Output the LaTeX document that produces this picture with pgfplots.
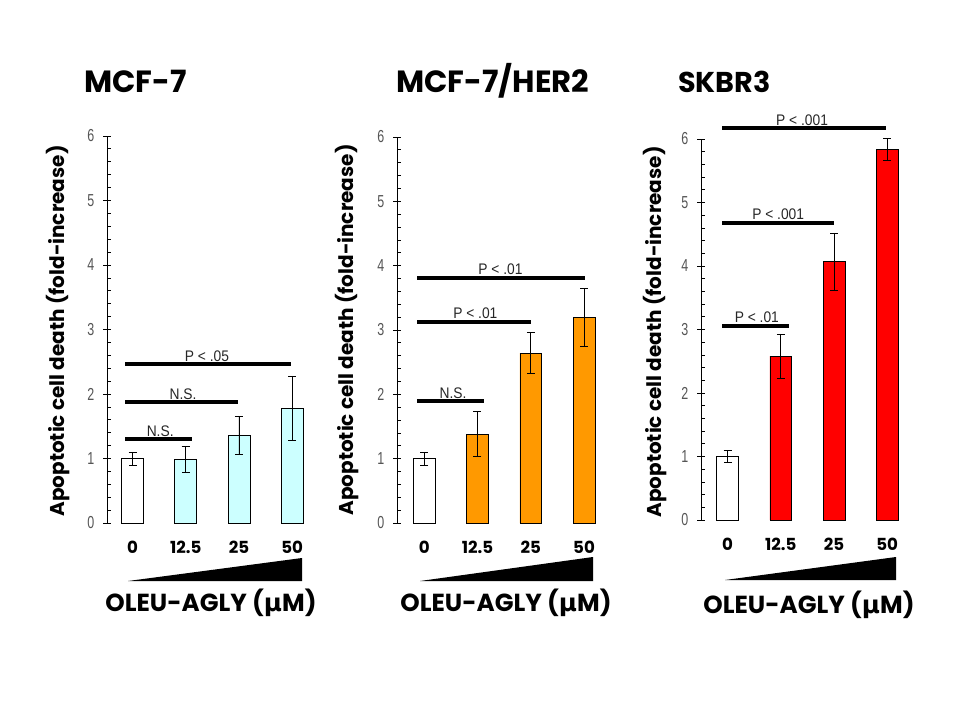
\documentclass[border=0pt]{standalone}
\usepackage{pgfplots}
\pgfplotsset{compat=1.18}
\usepackage{fontspec}
\setmainfont{Poppins}
\newfontfamily\tickfont[FakeStretch=0.72]{Liberation Sans}
\newfontfamily\sigfont[FakeStretch=0.9]{Liberation Sans}
\newfontfamily\dejavu{DejaVu Sans}
\definecolor{cyanbar}{HTML}{CCFFFF}
\definecolor{orangebar}{HTML}{FF9900}
\definecolor{redbar}{HTML}{FF0000}
\definecolor{tickgray}{HTML}{555555}
\tikzset{
  sig/.style={line width=3pt, black},
  siglab/.style={font=\sigfont\fontsize{11.5}{11.5}\selectfont, text=black!85, anchor=south, inner sep=1pt, yshift=1pt},
  ttl/.style={anchor=base west, font=\bfseries\fontsize{23}{23}\selectfont, inner sep=0pt},
}
\pgfplotsset{
  panel/.style={
    scale only axis,
    ymin=0, ymax=6, xmax=3.5,
    ytick={0,...,6},
    minor y tick num=4,
    axis lines=left,
    axis line style={-},
    x axis line style={draw=none},
    xtick={0,1,2,3},
    xticklabels={0,12.5,25,50},
    major x tick style={draw=none},
    /pgf/number format/assume math mode=true,
    xticklabel style={font=\bfseries\fontsize{12.5}{12}\selectfont, yshift=-4pt},
    yticklabel style={font=\tickfont\fontsize{13}{12}\selectfont, text=tickgray, xshift=-3pt},
    tick align=center,
    major tick length=6pt,
    minor tick length=3pt,
    minor y tick style={xshift=1.5pt},
    tick style={black, line width=0.6pt},
    axis line style={line width=0.6pt},
    ybar, bar width=0.41, bar shift=0pt,
    clip=false,
  },
  errb/.style={error bars/.cd, y dir=both, y explicit, error mark options={rotate=90, mark size=3pt, line width=0.6pt, black}, error bar style={line width=0.6pt, black}},
}
\begin{document}
\begin{tikzpicture}[x=0.75pt, y=-0.75pt]
\path[use as bounding box] (0,0) rectangle (960,720);
\coordinate (p1) at (107,523);
\coordinate (p2) at (397,523);
\coordinate (p3) at (701,520);

% ---------- Panel 1: MCF-7 ----------
\begin{axis}[panel, at={(p1)}, anchor=south west, width=158.8pt, height=290.25pt, xmin=-0.48]
\addplot[fill=white, draw=black, line width=0.5pt, errb] coordinates {(0,1.00) +- (0,0.10)};
\addplot[fill=cyanbar, draw=black, line width=0.5pt, errb] coordinates {(1,0.98) +- (0,0.20) (2,1.36) +- (0,0.30) (3,1.78) +- (0,0.50)};
\draw[sig] (axis cs:-0.14,1.30) -- (axis cs:1.12,1.30);
\draw[sig] (axis cs:-0.14,1.87) -- (axis cs:1.98,1.87);
\draw[sig] (axis cs:-0.14,2.46) -- (axis cs:2.98,2.46);
\node[siglab] at (axis cs:0.52,1.30) {N.S.};
\node[siglab] at (axis cs:0.95,1.87) {N.S.};
\node[siglab] at (axis cs:1.40,2.46) {P < .05};
\end{axis}

% ---------- Panel 2: MCF-7/HER2 ----------
\begin{axis}[panel, at={(p2)}, anchor=south west, width=160.3pt, height=289.5pt, xmin=-0.51]
\addplot[fill=white, draw=black, line width=0.5pt, errb] coordinates {(0,1.00) +- (0,0.10)};
\addplot[fill=orangebar, draw=black, line width=0.5pt, errb] coordinates {(1,1.38) +- (0,0.35) (2,2.64) +- (0,0.32) (3,3.20) +- (0,0.45)};
\draw[sig] (axis cs:-0.13,1.89) -- (axis cs:1.13,1.89);
\draw[sig] (axis cs:-0.13,3.13) -- (axis cs:2.00,3.13);
\draw[sig] (axis cs:-0.13,3.81) -- (axis cs:3.02,3.81);
\node[siglab] at (axis cs:0.54,1.89) {N.S.};
\node[siglab] at (axis cs:0.96,3.13) {P < .01};
\node[siglab] at (axis cs:1.43,3.81) {P < .01};
\end{axis}

% ---------- Panel 3: SKBR3 ----------
\begin{axis}[panel, at={(p3)}, anchor=south west, width=159.6pt, height=285.75pt, xmin=-0.5]
\addplot[fill=white, draw=black, line width=0.5pt, errb] coordinates {(0,1.00) +- (0,0.09)};
\addplot[fill=redbar, draw=black, line width=0.5pt, errb] coordinates {(1,2.58) +- (0,0.35) (2,4.07) +- (0,0.45) (3,5.84) +- (0,0.17)};
\draw[sig] (axis cs:-0.10,3.06) -- (axis cs:1.16,3.06);
\draw[sig] (axis cs:-0.10,4.68) -- (axis cs:2.00,4.68);
\draw[sig] (axis cs:-0.10,6.17) -- (axis cs:2.98,6.17);
\node[siglab] at (axis cs:0.55,3.06) {P < .01};
\node[siglab] at (axis cs:0.95,4.68) {P < .001};
\node[siglab] at (axis cs:1.40,6.17) {P < .001};
\end{axis}

% Titles
\node[ttl] at (84,93) {MCF-7};
\node[ttl] at (396,93) {MCF-7/HER2};
\node[ttl, font=\bfseries\fontsize{21.5}{21.5}\selectfont] at (678,93) {SKBR3};

% Y labels
\foreach \xx/\yy in {58/331, 347/330, 655/332}{
  \node[rotate=90, font=\bfseries\fontsize{15}{15}\selectfont, inner sep=0pt] at (\xx,\yy) {Apoptotic cell death (fold-increase)};
}

% Wedges
\fill[black] (128,581) -- (302,581) -- (302,558) -- cycle;
\fill[black] (420,581) -- (593,581) -- (593,557) -- cycle;
\fill[black] (725,580) -- (896,580) -- (896,557) -- cycle;

% Dose labels
\foreach \xx/\yy in {211/603, 506/603, 809/605}{
  \node[font=\bfseries\fontsize{18.5}{18.5}\selectfont, inner sep=0pt] at (\xx,\yy) {OLEU-AGLY ({\dejavu\bfseries μ}M)};
}
\end{tikzpicture}
\end{document}
